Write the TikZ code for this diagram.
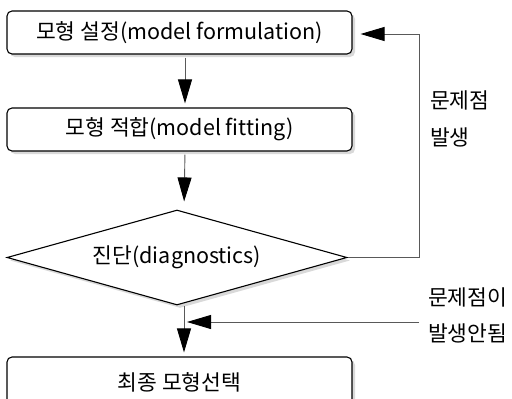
\documentclass[tikz,border=0pt]{standalone}
\usepackage{fontspec}
\setmainfont{Noto Sans CJK KR}
\usetikzlibrary{shapes.geometric,arrows.meta,shadows}
\begin{document}
\begin{tikzpicture}[x=1pt,y=-1pt,
  every node/.style={font=\fontsize{21.5}{24}\selectfont},
  boxnode/.style={draw=black, line width=1.1pt, rounded corners=5pt, fill=white,
    minimum width=345pt, minimum height=43pt, inner sep=0pt,
    drop shadow={shadow xshift=3pt, shadow yshift=-3pt, fill=black!15, opacity=1}},
  decnode/.style={diamond, draw=black, line width=1.1pt, fill=white, aspect=3.58,
    minimum width=340pt, minimum height=95pt, inner sep=0pt,
    drop shadow={shadow xshift=3pt, shadow yshift=-3pt, fill=black!15, opacity=1}},
  arr/.style={draw=black!65, line width=0.9pt, -{Triangle[length=24pt,width=14pt,color=black,fill=black]}},
  lbl/.style={anchor=west, inner sep=0pt}
]
\useasboundingbox (0,0) rectangle (512,399);
\node[boxnode] (b1) at (179.5,32.5) {모형 설정(model formulation)};
\node[boxnode] (b2) at (179.5,129.5) {모형 적합(model fitting)};
\node[decnode] (d) at (177,257.5) {진단(diagnostics)};
\node[boxnode, minimum height=50pt] (b3) at (179.5,382) {최종 모형선택};
\coordinate (fb) at (419,34);
\coordinate (j) at (184,322);
\coordinate (s) at (419,322);
\draw[arr, shorten <=3pt, shorten >=4pt] ([xshift=5.5pt]b1.south) -- ([xshift=5.5pt]b2.north);
\draw[arr, shorten <=3pt, shorten >=8pt] ([xshift=5.5pt]b2.south) -- (d.north -| j);
\draw[arr, shorten >=8pt] (d.east) -| (fb) -- (fb -| b1.east);
\draw[arr, shorten >=4pt] (d.south -| j) -- (b3.north -| j);
\draw[arr, shorten >=3pt] (s) -- (j);
\node[lbl] (l1) at (430,100) {문제점};
\node[lbl] (l2) at (430,137) {발생};
\node[lbl] (l3) at (428,297) {문제점이};
\node[lbl] (l4) at (428,333) {발생안됨};
\end{tikzpicture}
\end{document}
